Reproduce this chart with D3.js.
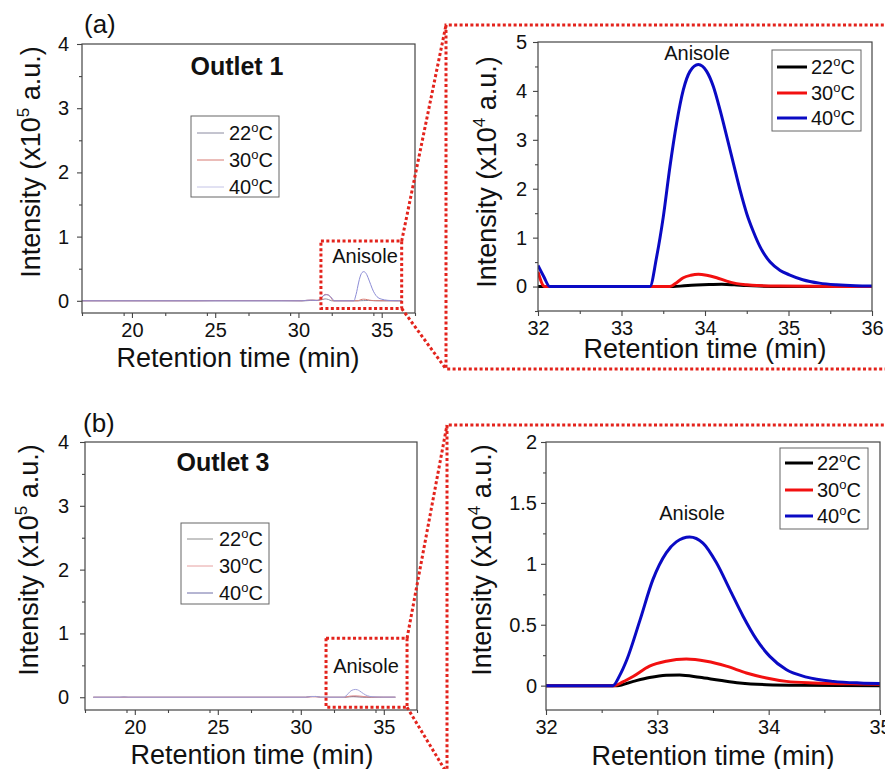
<!DOCTYPE html>
<html>
<head>
<meta charset="utf-8">
<script src="https://cdn.jsdelivr.net/npm/d3@7/dist/d3.min.js"></script>
<style>
  html, body { margin: 0; padding: 0; background: #fff; }
  svg { display: block; font-family: "Liberation Sans", Arial, sans-serif; }
</style>
</head>
<body>
<svg id="fig" width="885" height="769"></svg>
<script>
// Temperatures shown in every legend
const temps = ["22", "30", "40"];

// Outlet 1, zoomed window: [time (min), intensity (x10^4 a.u.)]
const out1Zoom22 = [[32.0,0],[33.62,0],[33.75,0.015],[33.9,0.03],[34.05,0.04],[34.2,0.045],[34.35,0.035],[34.5,0.02],[34.65,0.01],[34.9,0.003],[36.0,0]];
const out1Zoom30 = [[32.0,0.30],[32.08,0],[33.58,0],[33.66,0.08],[33.74,0.18],[33.83,0.23],[33.92,0.25],[34.02,0.23],[34.14,0.18],[34.26,0.11],[34.38,0.06],[34.5,0.035],[34.62,0.02],[34.9,0.01],[35.3,0.005],[36.0,0]];
const out1Zoom40 = [[32.0,0.43],[32.07,0.2],[32.14,0],[33.34,0],[33.42,0.60],[33.50,1.42],[33.58,2.45],[33.66,3.34],[33.74,4.02],[33.82,4.40],[33.92,4.54],[34.02,4.40],[34.10,4.09],[34.18,3.61],[34.26,3.07],[34.34,2.52],[34.42,1.97],[34.50,1.49],[34.58,1.12],[34.66,0.81],[34.78,0.50],[34.90,0.33],[35.01,0.24],[35.17,0.14],[35.37,0.07],[35.57,0.035],[35.8,0.015],[36.0,0.01]];

// Outlet 3, zoomed window: [time (min), intensity (x10^4 a.u.)]
const out3Zoom22 = [[32.0,0],[32.64,0],[32.785,0.035],[32.93,0.066],[33.08,0.085],[33.20,0.088],[33.38,0.068],[33.56,0.044],[33.74,0.022],[33.98,0.008],[34.28,0.003],[35.0,0]];
const out3Zoom30 = [[32.0,0],[32.61,0],[32.69,0.03],[32.785,0.077],[32.93,0.16],[33.08,0.20],[33.26,0.218],[33.44,0.20],[33.62,0.16],[33.80,0.104],[33.98,0.063],[34.16,0.035],[34.40,0.022],[34.82,0.014],[35.0,0.012]];
const out3Zoom40 = [[32.0,0],[32.6,0],[32.66,0.08],[32.725,0.21],[32.845,0.54],[32.96,0.87],[33.08,1.09],[33.17,1.18],[33.29,1.22],[33.41,1.17],[33.53,1.01],[33.65,0.79],[33.77,0.57],[33.89,0.38],[34.01,0.24],[34.16,0.13],[34.34,0.07],[34.58,0.035],[34.82,0.022],[35.0,0.018]];

// Early part of each full chromatogram, before 32 min: [time (min), intensity (x10^5 a.u.)]
const out1Lead22 = [[17,0],[30.4,0],[30.7,0.005],[31.0,0.006],[31.3,0.01],[31.6,0.03],[31.8,0.02]];
const out1Lead30 = [[17,0],[24,0],[25,0.003],[29,0.003],[30.2,0],[30.6,0.01],[30.9,0.012],[31.2,0.005],[31.4,0.05],[31.6,0.1],[31.8,0.09]];
const out1Lead40 = [[17,0],[30.2,0],[30.5,0.008],[30.8,0.01],[31.1,0.004],[31.3,0.03],[31.5,0.08],[31.7,0.095],[31.9,0.07]];
const out3Lead22 = [[17.5,0],[19.1,0],[19.35,0.003],[19.6,0],[30.3,0],[30.6,0.012],[30.9,0.012],[31.2,0]];
const out3Lead30 = [[17.5,0],[30.3,0],[30.7,0.006],[31.0,0.005],[31.2,0]];
const out3Lead40 = [[17.5,0],[19.1,0],[19.35,0.004],[19.6,0],[30.3,0],[30.6,0.01],[30.9,0.012],[31.2,0]];

// End of the recorded run (min)
const out1RunEnd = 36.2;
const out3RunEnd = 35.7;

// Axis ticks
const fullXTicks = [20, 25, 30, 35];
const fullYTicks = [0, 1, 2, 3, 4];
const out1ZoomXTicks = [32, 33, 34, 35, 36];
const out1ZoomYTicks = [0, 1, 2, 3, 4, 5];
const out3ZoomXTicks = [32, 33, 34, 35];
const out3ZoomYTicks = [0, 0.5, 1, 1.5, 2];

// Full chromatogram in x10^5 units: lead-in plus the zoomed trace rescaled
function fullTrace(lead, zoom, end) {
  const last = zoom[zoom.length - 1];
  return lead.concat(zoom.map(d => [d[0], d[1] / 10]), [[end, last[1] / 10]]);
}

const svg = d3.select("#fig");
const RED = "#e3231c";
let clipId = 0;

function drawPanel(o) {
  const x = d3.scaleLinear().domain(o.xDomain).range([o.x0, o.x1]);
  const y = d3.scaleLinear().domain(o.yDomain).range([o.y1, o.y0]);
  const g = svg.append("g");
  const id = "clip" + (clipId++);
  g.append("clipPath").attr("id", id).append("rect")
    .attr("x", o.x0).attr("y", o.y0).attr("width", o.x1 - o.x0).attr("height", o.y1 - o.y0);

  // minor ticks
  const minorX = d3.range(o.xDomain[0], o.xDomain[1] + 1e-9, o.xMinor)
    .filter(v => !o.xTicks.some(t => Math.abs(t - v) < 1e-6));
  const minorY = d3.range(Math.ceil(o.yDomain[0] / o.yMinor) * o.yMinor, o.yDomain[1] + 1e-9, o.yMinor)
    .filter(v => !o.yTicks.some(t => Math.abs(t - v) < 1e-6));

  const xAxis = d3.axisBottom(x).tickValues(o.xTicks).tickSize(5).tickPadding(4).tickFormat(d3.format("d"));
  const yAxis = d3.axisLeft(y).tickValues(o.yTicks).tickSize(5).tickPadding(o.yPad).tickFormat(v => String(v));

  const gx = g.append("g").attr("transform", `translate(0,${o.y1})`).call(xAxis);
  const gy = g.append("g").attr("transform", `translate(${o.x0},0)`).call(yAxis);
  g.append("g").attr("transform", `translate(0,${o.y1})`)
    .call(d3.axisBottom(x).tickValues(minorX).tickSize(3).tickFormat(""));
  g.append("g").attr("transform", `translate(${o.x0},0)`)
    .call(d3.axisLeft(y).tickValues(minorY).tickSize(3).tickFormat(""));
  g.selectAll(".domain").remove();
  g.selectAll(".tick line").attr("stroke", "#444").attr("stroke-width", 1.1);
  gx.selectAll(".tick text").attr("font-size", 20).attr("fill", "#111")
    .attr("font-family", "Liberation Sans, Arial, sans-serif").attr("dy", "0.74em");
  gy.selectAll(".tick text").attr("font-size", 20).attr("fill", "#111")
    .attr("font-family", "Liberation Sans, Arial, sans-serif");

  // traces
  const line = d3.line().x(d => x(d[0])).y(d => y(d[1])).curve(d3.curveMonotoneX);
  const lines = g.append("g").attr("clip-path", `url(#${id})`);
  o.series.forEach((s, i) => {
    lines.append("path").datum(s).attr("d", line)
      .attr("fill", "none").attr("stroke", o.colors[i]).attr("stroke-width", o.lw)
      .attr("stroke-linejoin", "round");
  });

  // frame
  g.append("rect").attr("x", o.x0).attr("y", o.y0).attr("width", o.x1 - o.x0).attr("height", o.y1 - o.y0)
    .attr("fill", "none").attr("stroke", "#444").attr("stroke-width", 1.2);

  // axis titles
  g.append("text").attr("x", o.xTitleX).attr("y", o.xTitleY).attr("text-anchor", "middle")
    .attr("font-size", 27).attr("fill", "#111").text("Retention time (min)");
  const yt = g.append("text").attr("text-anchor", "middle").attr("font-size", 27).attr("fill", "#111")
    .attr("transform", `translate(${o.yTitleX},${o.yTitleY}) rotate(-90)`);
  yt.append("tspan").text("Intensity (x10");
  yt.append("tspan").attr("font-size", 17).attr("dy", -11).text(o.exp);
  yt.append("tspan").attr("dy", 11).text(" a.u.)");

  // legend
  const L = o.legend;
  const lg = g.append("g");
  lg.append("rect").attr("x", L.x0).attr("y", L.y0).attr("width", L.x1 - L.x0).attr("height", L.y1 - L.y0)
    .attr("fill", "#fff").attr("stroke", "#666").attr("stroke-width", 1);
  temps.forEach((t, i) => {
    const ry = L.rows[i];
    lg.append("line").attr("x1", L.lx0).attr("x2", L.lx1).attr("y1", ry).attr("y2", ry)
      .attr("stroke", o.legendColors[i]).attr("stroke-width", L.lw);
    const tx = lg.append("text").attr("x", L.tx).attr("y", ry + 7).attr("font-size", 20).attr("fill", "#111");
    tx.append("tspan").text(t);
    tx.append("tspan").attr("font-size", 13).attr("dy", -8).text("o");
    tx.append("tspan").attr("dy", 8).text("C");
  });

  // peak label
  g.append("text").attr("x", o.peakX).attr("y", o.peakY).attr("text-anchor", "middle")
    .attr("font-size", 20).attr("fill", "#111").text("Anisole");

  return { x, y };
}

function dotted(sel) {
  return sel.attr("fill", "none").attr("stroke", RED).attr("stroke-width", 3)
    .attr("stroke-dasharray", "3 2.4");
}

// ---------- (a) Outlet 1 ----------
const a = drawPanel({
  x0: 82, x1: 415, y0: 44, y1: 313,
  xDomain: [17, 37], yDomain: [-0.19, 4],
  xTicks: fullXTicks, xMinor: 2.5, yTicks: fullYTicks, yMinor: 0.5, yPad: 8,
  series: [fullTrace(out1Lead22, out1Zoom22, out1RunEnd),
           fullTrace(out1Lead30, out1Zoom30, out1RunEnd),
           fullTrace(out1Lead40, out1Zoom40, out1RunEnd)],
  colors: ["#8a8aa0", "#d77a72", "#8c8cd6"], lw: 1,
  legendColors: ["#8a8aa0", "#d77a72", "#c4c4e6"],
  legend: { x0: 191, x1: 279, y0: 116, y1: 197, rows: [133, 160, 187], lx0: 197, lx1: 224, tx: 229, lw: 1 },
  xTitleX: 238, xTitleY: 367, yTitleX: 40, yTitleY: 162, exp: "5",
  peakX: 365, peakY: 263
});
svg.append("text").attr("x", 84).attr("y", 33).attr("font-size", 26).attr("fill", "#111").text("(a)");
svg.append("text").attr("x", 237).attr("y", 75).attr("text-anchor", "middle")
  .attr("font-size", 25).attr("font-weight", "bold").attr("fill", "#111").text("Outlet 1");

const a2 = drawPanel({
  x0: 538, x1: 872, y0: 42, y1: 311,
  xDomain: [32, 36], yDomain: [-0.5, 5],
  xTicks: out1ZoomXTicks, xMinor: 0.5, yTicks: out1ZoomYTicks, yMinor: 0.5, yPad: 6,
  series: [out1Zoom22, out1Zoom30, out1Zoom40],
  colors: ["#000", "#f21010", "#0a0ac4"], lw: 3,
  legendColors: ["#000", "#f21010", "#0a0ac4"],
  legend: { x0: 772, x1: 861, y0: 50, y1: 131, rows: [67, 93, 118], lx0: 777, lx1: 807, tx: 811, lw: 3 },
  xTitleX: 705, xTitleY: 358, yTitleX: 496, yTitleY: 172, exp: "4",
  peakX: 697, peakY: 60
});

// zoom window on (a) and its enlargement
{
  const bx0 = a.x(31.35), bx1 = a.x(36.2), by0 = a.y(0.93), by1 = a.y(-0.12);
  dotted(svg.append("rect")).attr("x", bx0).attr("y", by0).attr("width", bx1 - bx0).attr("height", by1 - by0);
  dotted(svg.append("path")).attr("d", `M${bx1},${by0}L446,25`);
  dotted(svg.append("path")).attr("d", `M${bx1},${by1}L446,369`);
  dotted(svg.append("path")).attr("d", "M900,25H446V369H900");
}

// ---------- (b) Outlet 3 ----------
const b = drawPanel({
  x0: 85, x1: 417, y0: 442, y1: 710,
  xDomain: [17, 37], yDomain: [-0.2, 4],
  xTicks: fullXTicks, xMinor: 2.5, yTicks: fullYTicks, yMinor: 0.5, yPad: 11,
  series: [fullTrace(out3Lead22, out3Zoom22, out3RunEnd),
           fullTrace(out3Lead30, out3Zoom30, out3RunEnd),
           fullTrace(out3Lead40, out3Zoom40, out3RunEnd)],
  colors: ["#6a5a7a", "#e08a8a", "#a0a0da"], lw: 1,
  legendColors: ["#8c8c8c", "#e6a0a0", "#6c6ca6"],
  legend: { x0: 181, x1: 269, y0: 523, y1: 604, rows: [539, 566, 593], lx0: 187, lx1: 213, tx: 219, lw: 1 },
  xTitleX: 252, xTitleY: 764, yTitleX: 38, yTitleY: 560, exp: "5",
  peakX: 366, peakY: 673
});
svg.append("text").attr("x", 83).attr("y", 432).attr("font-size", 26).attr("fill", "#111").text("(b)");
svg.append("text").attr("x", 223).attr("y", 471).attr("text-anchor", "middle")
  .attr("font-size", 25).attr("font-weight", "bold").attr("fill", "#111").text("Outlet 3");

const b2 = drawPanel({
  x0: 546, x1: 880, y0: 442, y1: 710,
  xDomain: [32, 35], yDomain: [-0.2, 2],
  xTicks: out3ZoomXTicks, xMinor: 0.5, yTicks: out3ZoomYTicks, yMinor: 0.25, yPad: 4,
  series: [out3Zoom22, out3Zoom30, out3Zoom40],
  colors: ["#000", "#f21010", "#0a0ac4"], lw: 3,
  legendColors: ["#000", "#f21010", "#0a0ac4"],
  legend: { x0: 780, x1: 868, y0: 448, y1: 529, rows: [463, 490, 516], lx0: 785, lx1: 813, tx: 817, lw: 3 },
  xTitleX: 713, xTitleY: 765, yTitleX: 491, yTitleY: 560, exp: "4",
  peakX: 692, peakY: 520
});

{
  const bx0 = b.x(31.52), bx1 = b.x(36.4), by0 = b.y(0.925), by1 = b.y(-0.157);
  dotted(svg.append("rect")).attr("x", bx0).attr("y", by0).attr("width", bx1 - bx0).attr("height", by1 - by0);
  dotted(svg.append("path")).attr("d", `M${bx1},${by0}L447,425`);
  dotted(svg.append("path")).attr("d", `M${bx1},${by1}L457,790`);
  dotted(svg.append("path")).attr("d", "M900,425H447V800");
}
</script>
</body>
</html>
